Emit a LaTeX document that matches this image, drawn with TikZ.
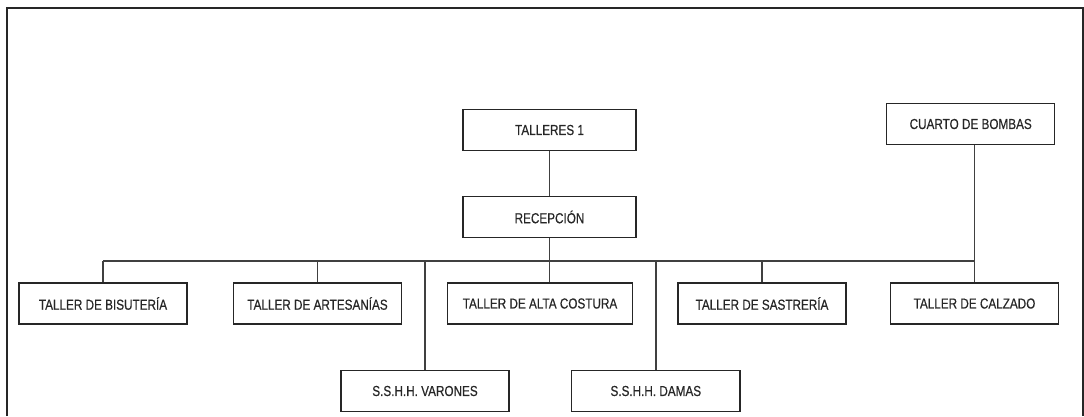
\documentclass[tikz,border=0pt]{standalone}
\usepackage{fontspec}
\setmainfont{Liberation Sans}[FakeStretch=0.81, FakeBold=0.5]
\usetikzlibrary{positioning}

\begin{document}
\begin{tikzpicture}[x=0.025cm, y=-0.025cm,
  caja/.style={draw=black!85, line width=1pt, minimum width=4.2cm,
    minimum height=1.03cm, inner sep=0pt, text=black!85,
    font=\fontsize{10.3}{12}\selectfont},
  linea/.style={black!75, line width=1pt},
  marco/.style={black!85, line width=1.5pt}]

  \useasboundingbox (0,0) rectangle (1084,416);
  % 外框
  \draw[marco] (7,416) -- (7,8) -- (1083,8) -- (1083,416);

  % 上层
  \node[caja, minimum width=4.33cm] (talleres) at (549.5,130) {TALLERES 1};
  \node[caja, minimum width=4.33cm] (recep) at (549.5,217) {RECEPCIÓN};
  \node[caja] (bombas) at (970.7,124) {CUARTO DE BOMBAS};

  % 各个车间
  \node[caja] (bisut) at (103,303.5) {TALLER DE BISUTERÍA};
  \node[caja] (artes) at (317.5,303.5) {TALLER DE ARTESANÍAS};
  \node[caja, minimum width=4.63cm] (alta) at (540,303.5) {TALLER DE ALTA COSTURA};
  \node[caja] (sastr) at (762,303.5) {TALLER DE SASTRERÍA};
  \node[caja] (calz) at (974.5,303.5) {TALLER DE CALZADO};

  % 卫生间
  \node[caja] (varon) at (425,391) {S.S.H.H. VARONES};
  \node[caja] (damas) at (655.8,391) {S.S.H.H. DAMAS};

  % 连线
  \coordinate (bus) at (549,261);
  \draw[linea] (talleres) -- (recep);
  \draw[linea] (recep.south) -- (alta.north -| recep.south);
  \draw[linea] (bisut.north |- bus) -- (calz.north |- bus);
  \foreach \n in {bisut, artes, varon, damas, sastr, calz}
    \draw[linea] (\n.north) -- (\n.north |- bus);
  \draw[linea] (bombas.south -| calz.north) -- (calz.north);
\end{tikzpicture}
\end{document}
